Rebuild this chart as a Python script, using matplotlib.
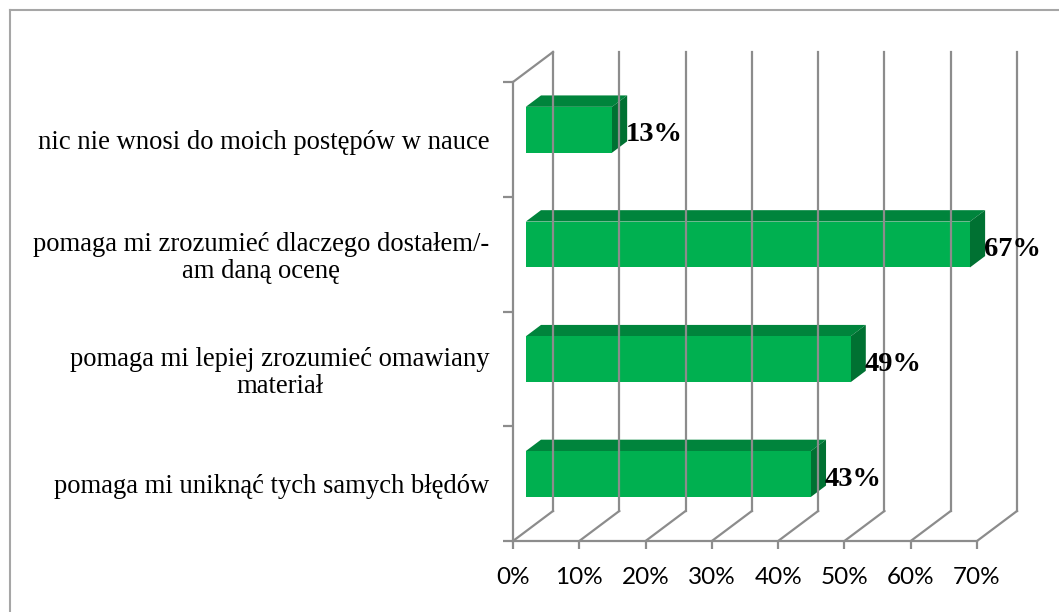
import matplotlib.pyplot as plt
from matplotlib.lines import Line2D
from matplotlib.patches import Polygon
import numpy as np

# data (top to bottom as shown in the chart)
categories = ['nic nie wnosi do moich postępów w nauce',
              'pomaga mi zrozumieć dlaczego dostałem/-\nam daną ocenę',
              'pomaga mi lepiej zrozumieć omawiany\nmateriał',
              'pomaga mi uniknąć tych samych błędów']
values = [13, 67, 49, 43]
xticks = [0, 10, 20, 30, 40, 50, 60, 70]
xticklabels = ['%d%%' % t for t in xticks]

# reverse so the first category ends on top
cats = categories[::-1]
vals = values[::-1]
ypos = np.arange(len(cats))

W, H = 1059, 612
fig = plt.figure(figsize=(W / 100, H / 100), dpi=100)
ax = fig.add_axes([513 / W, (H - 541) / H, 464 / W, 459 / H])
ax.set_xlim(0, 70)
ax.set_ylim(-0.5, 3.5)

# 3d depth offset in data units (40px right, 30px up)
DX = 70 * 40 / 464
DY = 4 * 30 / 459
d0, d1 = 0.32, 0.70
grid_c = '#8c8c8c'

# back wall gridlines and floor diagonals
for t in xticks:
    ax.add_line(Line2D([t + DX, t + DX], [-0.5 + DY, 3.5 + DY], color=grid_c, lw=1.6, clip_on=False))
    ax.add_line(Line2D([t, t + DX], [-0.5, -0.5 + DY], color=grid_c, lw=1.6, clip_on=False))
# left wall top edge
ax.add_line(Line2D([0, DX], [3.5, 3.5 + DY], color=grid_c, lw=1.6, clip_on=False))

# bars
front_c, top_c, side_c = '#00b050', '#00843c', '#007132'
hh = 0.2
for y, v in zip(ypos, vals):
    ox0, oy0 = DX * d0, DY * d0
    ox1, oy1 = DX * d1, DY * d1
    top = [(ox0, y + hh + oy0), (v + ox0, y + hh + oy0), (v + ox1, y + hh + oy1), (ox1, y + hh + oy1)]
    side = [(v + ox0, y - hh + oy0), (v + ox1, y - hh + oy1), (v + ox1, y + hh + oy1), (v + ox0, y + hh + oy0)]
    ax.add_patch(Polygon(top, closed=True, fc=top_c, ec='none', clip_on=False))
    ax.add_patch(Polygon(side, closed=True, fc=side_c, ec='none', clip_on=False))
    ax.barh(y + oy0, v, height=2 * hh, left=ox0, color=front_c, clip_on=False)
    ax.text(v + ox1 - 0.15, y + oy0 - 0.045, '%d%%' % v, ha='left', va='center',
            fontsize=20.5, fontweight='bold', family='Liberation Serif')

# axes: front edges
for s in ['top', 'right']:
    ax.spines[s].set_visible(False)
for s in ['left', 'bottom']:
    ax.spines[s].set_color(grid_c)
    ax.spines[s].set_linewidth(1.6)

ax.set_xticks(xticks)
ax.set_xticklabels(xticklabels, fontsize=17.5, family='Lato')
ax.tick_params(axis='x', length=6, width=1.6, color=grid_c, pad=13)

ax.set_yticks(ypos)
ax.set_yticklabels(cats, fontsize=19.2, family='Liberation Serif', multialignment='center',
                   linespacing=1.1)
ax.tick_params(axis='y', which='major', length=0, pad=17)
ax.set_yticks(np.arange(-0.5, 4, 1), minor=True)
ax.tick_params(axis='y', which='minor', length=7, width=1.6, color=grid_c)

# outer chart border (top and left visible)
fig.add_artist(Line2D([10 / W, 1], [1 - 10 / H, 1 - 10 / H], color='#a6a6a6', lw=1.5))
fig.add_artist(Line2D([10 / W, 10 / W], [0, 1 - 10 / H], color='#a6a6a6', lw=1.5))

fig.savefig('out.png', dpi=100)
